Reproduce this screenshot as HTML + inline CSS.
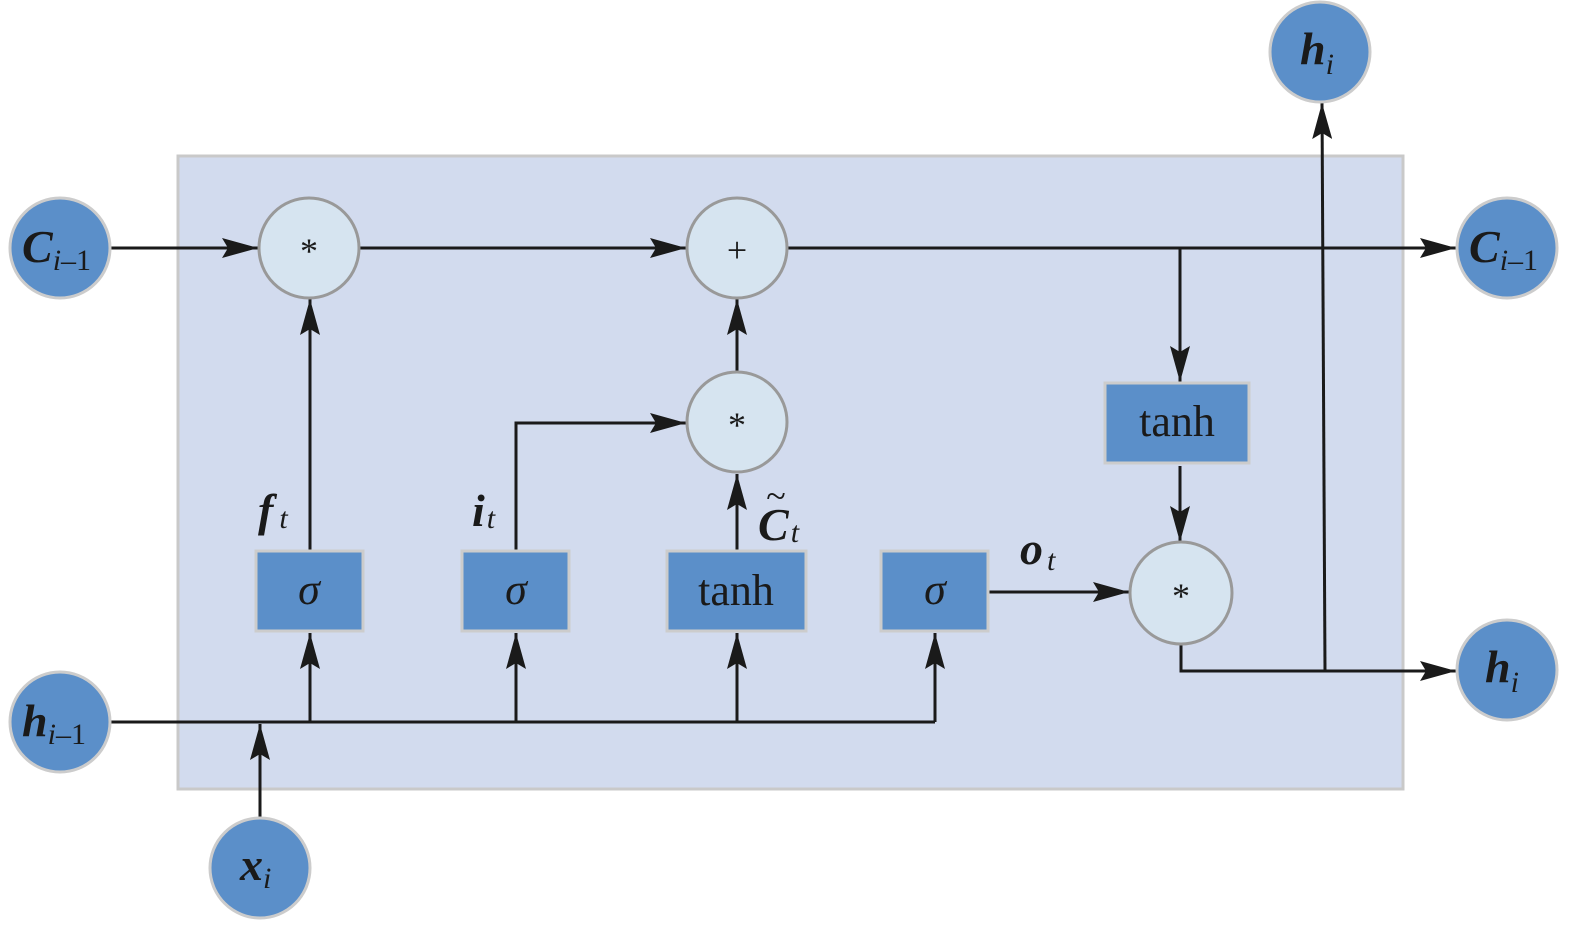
<!DOCTYPE html>
<html><head><meta charset="utf-8"><style>
html,body{margin:0;padding:0;background:#fff;}
svg{display:block;}
text{font-family:"Liberation Serif",serif;fill:#1a1a1a;}
</style></head><body>
<svg width="1575" height="926" viewBox="0 0 1575 926" xmlns="http://www.w3.org/2000/svg">
<defs>
<marker id="a" markerWidth="40" markerHeight="20" refX="36" refY="10" orient="auto" markerUnits="userSpaceOnUse">
<path d="M0,0 L36,10 L0,20 L6,10 Z" fill="#1a1a1a"/>
</marker>
</defs>
<rect x="178" y="156" width="1225" height="633" fill="#d2dbee" stroke="#c9c9c9" stroke-width="3"/>
<g stroke="#1a1a1a" stroke-width="3" fill="none">
<line x1="110" y1="248" x2="258" y2="248" marker-end="url(#a)"/>
<line x1="360" y1="248" x2="686" y2="248" marker-end="url(#a)"/>
<line x1="788" y1="248" x2="1456" y2="248" marker-end="url(#a)"/>
<line x1="1180" y1="248" x2="1180" y2="382" marker-end="url(#a)"/>
<line x1="1180" y1="466" x2="1180" y2="542" marker-end="url(#a)"/>
<polyline points="1181,644 1181,671 1456,671" marker-end="url(#a)"/>
<line x1="1325" y1="671" x2="1322" y2="103" marker-end="url(#a)"/>
<line x1="110" y1="722" x2="935" y2="722"/>
<line x1="310" y1="722" x2="310" y2="633" marker-end="url(#a)"/>
<line x1="516" y1="722" x2="516" y2="633" marker-end="url(#a)"/>
<line x1="737" y1="722" x2="737" y2="633" marker-end="url(#a)"/>
<line x1="935" y1="722" x2="935" y2="633" marker-end="url(#a)"/>
<line x1="310" y1="550" x2="310" y2="299" marker-end="url(#a)"/>
<polyline points="516,550 516,423 686,423" marker-end="url(#a)"/>
<line x1="737" y1="550" x2="737" y2="474" marker-end="url(#a)"/>
<line x1="737" y1="372" x2="737" y2="299" marker-end="url(#a)"/>
<line x1="989" y1="592" x2="1129" y2="592" marker-end="url(#a)"/>
<line x1="260" y1="818" x2="260" y2="724" marker-end="url(#a)"/>
</g>
<g fill="#d6e4f0" stroke="#999" stroke-width="3">
<circle cx="309" cy="248" r="50"/>
<circle cx="737" cy="248" r="50"/>
<circle cx="737" cy="422" r="50"/>
<circle cx="1181" cy="593" r="51"/>
</g>
<g font-size="36" text-anchor="middle">
<text x="309" y="263">*</text>
<text x="737" y="262">+</text>
<text x="737" y="437">*</text>
<text x="1181" y="608">*</text>
</g>
<g fill="#5b8fc9" stroke="#cccccc" stroke-width="3">
<rect x="256" y="551" width="107" height="80"/>
<rect x="462" y="551" width="107" height="80"/>
<rect x="667" y="551" width="139" height="80"/>
<rect x="881" y="551" width="107" height="80"/>
<rect x="1105" y="383" width="144" height="80"/>
</g>
<g font-size="44" text-anchor="middle">
<text x="309" y="604" font-style="italic">σ</text>
<text x="516" y="604" font-style="italic">σ</text>
<text x="736" y="605">tanh</text>
<text x="935" y="604" font-style="italic">σ</text>
<text x="1177" y="436">tanh</text>
</g>
<g fill="#5b8fc9" stroke="#cccccc" stroke-width="3">
<circle cx="60" cy="248" r="50"/>
<circle cx="60" cy="722" r="50"/>
<circle cx="260" cy="868" r="50"/>
<circle cx="1320" cy="52" r="50"/>
<circle cx="1507" cy="248" r="50"/>
<circle cx="1507" cy="670" r="50"/>
</g>
<g font-size="46" font-weight="bold" font-style="italic">
<text x="22" y="262">C<tspan font-size="30" font-weight="normal" dy="8">i</tspan><tspan font-size="30" font-weight="normal" font-style="normal">–1</tspan></text>
<text x="22" y="736">h<tspan font-size="30" font-weight="normal" dy="8">i</tspan><tspan font-size="30" font-weight="normal" font-style="normal">–1</tspan></text>
<text x="240" y="880">x<tspan font-size="30" font-weight="normal" dy="8">i</tspan></text>
<text x="1300" y="64">h<tspan font-size="30" font-weight="normal" dy="10">i</tspan></text>
<text x="1469" y="262">C<tspan font-size="30" font-weight="normal" dy="8">i</tspan><tspan font-size="30" font-weight="normal" font-style="normal">–1</tspan></text>
<text x="1485" y="682">h<tspan font-size="30" font-weight="normal" dy="10">i</tspan></text>
<text x="258" y="526">f<tspan font-size="30" font-weight="normal" dx="6" dy="2">t</tspan></text>
<text x="472" y="526">i<tspan font-size="30" font-weight="normal" dx="2" dy="2">t</tspan></text>
<text x="758" y="540">C<tspan font-size="30" font-weight="normal" dx="2" dy="2">t</tspan></text>
<text x="1020" y="564">o<tspan font-size="30" font-weight="normal" dx="4" dy="6">t</tspan></text>
</g>
<text x="776" y="508" font-size="36" text-anchor="middle">~</text>
</svg>
</body></html>
